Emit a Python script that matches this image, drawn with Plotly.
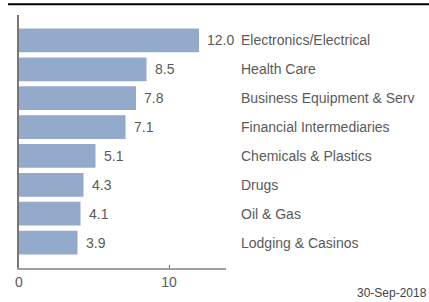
import plotly.graph_objects as go

categories = ["Electronics/Electrical", "Health Care", "Business Equipment & Serv",
              "Financial Intermediaries", "Chemicals & Plastics", "Drugs",
              "Oil & Gas", "Lodging & Casinos"]
values = [12.0, 8.5, 7.8, 7.1, 5.1, 4.3, 4.1, 3.9]
x_ticks = [0, 10]
date_label = "30-Sep-2018"

FONT = "Liberation Sans, Arial, sans-serif"
TXT = "#5a5a5a"

W, H = 429, 302
L, R, T, B = 19, 203, 15, 30
PW, PH = W - L - R, H - T - B


def px_x(p):
    return (p - L) / PW


def px_y(p):
    return (H - B - p) / PH


fig = go.Figure()
fig.add_trace(go.Bar(
    x=values, y=categories, orientation="h",
    marker=dict(color="#94aacb", line=dict(width=0)),
    hoverinfo="skip",
))

ann = []
for c, v in zip(categories, values):
    ann.append(dict(x=v, y=c, xref="x", yref="y", text=f"{v:.1f}", showarrow=False,
                    xanchor="left", xshift=6, font=dict(family=FONT, size=14, color=TXT)))
    ann.append(dict(x=px_x(239), y=c, xref="paper", yref="y", text=c, showarrow=False,
                    xanchor="left", font=dict(family=FONT, size=14, color=TXT)))
ann.append(dict(x=px_x(429), y=px_y(297), xref="paper", yref="paper", text=date_label,
                showarrow=False, xanchor="right", yanchor="middle",
                font=dict(family=FONT, size=12, color="#444444")))

fig.update_layout(
    width=W, height=H,
    margin=dict(l=L, r=R, t=T, b=B),
    paper_bgcolor="white", plot_bgcolor="white",
    showlegend=False,
    bargap=0.18,
    annotations=ann,
    xaxis=dict(range=[0, 13.8], tickvals=x_ticks, ticktext=[str(t) for t in x_ticks],
               showgrid=False, zeroline=False, showline=True, linecolor="#a0a0a0", linewidth=2,
               ticks="inside", ticklen=3, tickcolor="#666", tickwidth=1,
               tickfont=dict(family=FONT, size=14, color=TXT)),
    yaxis=dict(range=[7.88, -0.88], showticklabels=False, showgrid=False, zeroline=False,
               showline=True, linecolor="#777777", linewidth=2, ticks=""),
    shapes=[dict(type="line", xref="paper", yref="paper", x0=px_x(8), x1=px_x(429),
                 y0=px_y(4), y1=px_y(4), line=dict(color="black", width=2))],
)

fig.write_html("out.html", config={"displayModeBar": False},
               post_script="document.body.style.margin='0';")
